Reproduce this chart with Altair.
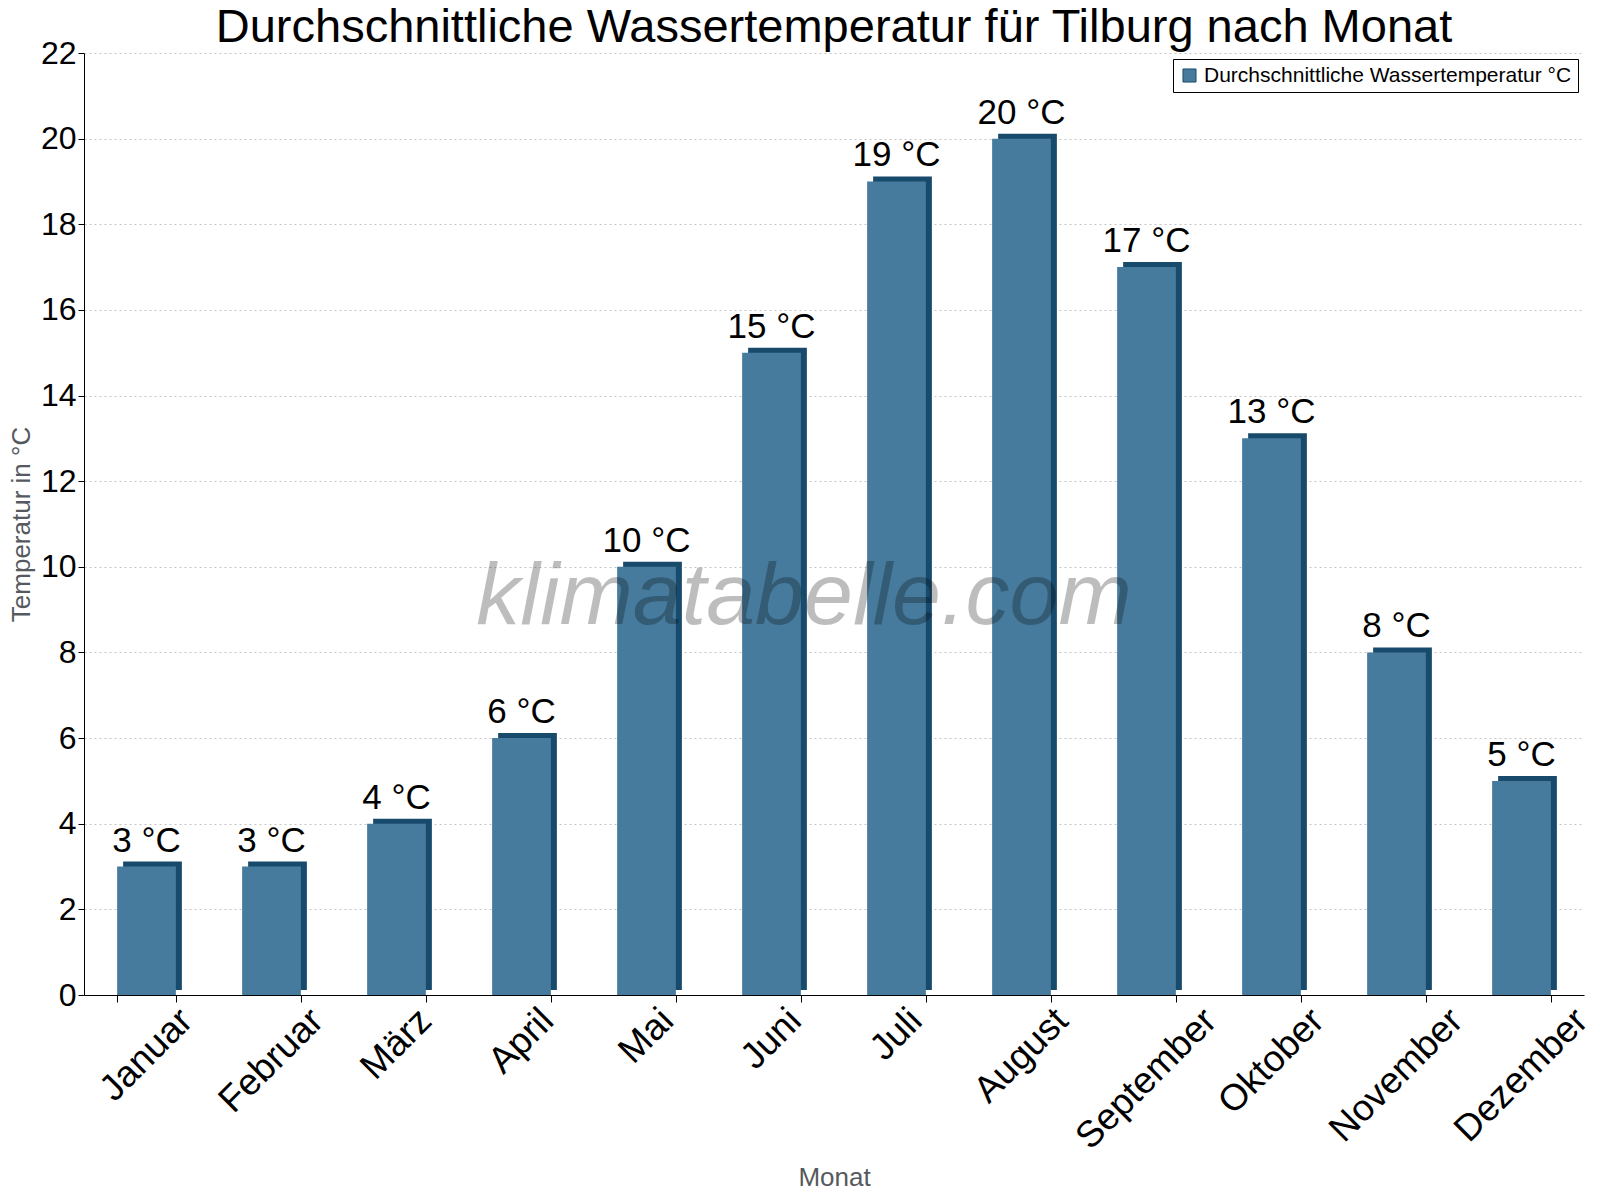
import altair as alt
import pandas as pd

# ===== Daten =====
monate = ["Januar", "Februar", "März", "April", "Mai", "Juni",
          "Juli", "August", "September", "Oktober", "November", "Dezember"]
temperatur = [3, 3, 4, 6, 10, 15, 19, 20, 17, 13, 8, 5]
serie = "Durchschnittliche Wassertemperatur °C"
wasserzeichen_text = ["klimatabelle.com"]

dat = pd.DataFrame({"Monat": monate, "Temp": temperatur})
dat["Serie"] = serie
dat["Label"] = [f"{t} °C" for t in temperatur]

FONT = "Liberation Sans"
front = "#467b9d"
side = "#184a6c"

#===== gedrehte Monatsnamen: Mitte der Box unter die Kategorie legen =====
LABEL_SIZE = 37
breiten = {"J": 500, "F": 611, "M": 833, "A": 667, "S": 667, "O": 778, "N": 722, "D": 722,
           "a": 556, "n": 556, "u": 556, "r": 333, "e": 556, "b": 556, "ä": 556, "z": 500,
           "p": 556, "i": 222, "l": 222, "g": 556, "s": 500, "t": 278, "m": 833, "k": 500,
           "o": 556, "v": 500}
def versatz(txt):
    L = sum(breiten[c] for c in txt) / 1000 * LABEL_SIZE
    return round(0.3536 * (L - LABEL_SIZE), 1)

offset_expr = " : ".join(f"datum.label == '{m}' ? {versatz(m)}" for m in monate) + " : 0"

x = alt.X("Monat:N", sort=monate, title="Monat",
          scale=alt.Scale(paddingInner=0.53, paddingOuter=0.265),
          axis=alt.Axis(labelAngle=-45, labelFontSize=LABEL_SIZE, labelColor="black",
                        labelAlign="right", labelBaseline="top",
                        labelOffset=alt.ExprRef(offset_expr),
                        tickBand="extent", tickColor="black", tickSize=7,
                        domainColor="black", titleFontSize=26, titleColor="#555a60",
                        titleFontWeight="normal", labelPadding=0, titlePadding=9,
                        labelLimit=400, grid=False))
y = alt.Y("Temp:Q", title="Temperatur in °C",
          scale=alt.Scale(domain=[0, 22]),
          axis=alt.Axis(values=list(range(0, 23, 2)), labelFontSize=32, labelColor="black",
                        tickColor="black", tickSize=6, domainColor="black",
                        gridColor="#c4c4c4", gridDash=[2, 3], titleFontSize=26,
                        titleColor="#555a60", titleFontWeight="normal", titlePadding=6))

base = alt.Chart(dat)

# dunkle Seite (3D-Effekt)
schatten = base.mark_bar(color=side, xOffset=6, yOffset=-5).encode(x=x, y=y)

balken = base.mark_bar().encode(
    x=x, y=y,
    color=alt.Color("Serie:N", scale=alt.Scale(range=[front]),
                    legend=alt.Legend(title=None, orient="top-right", labelFontSize=21,
                                      labelFont=FONT, strokeColor="black", padding=6,
                                      fillColor="white", symbolType="square",
                                      symbolSize=170, symbolStrokeColor=side,
                                      symbolStrokeWidth=1, offset=6, labelLimit=600))
)

texte = base.mark_text(fontSize=35, font=FONT, color="black", baseline="bottom", dy=-8).encode(
    x=x, y=y, text="Label:N")

wasserzeichen = alt.Chart(pd.DataFrame({"t": wasserzeichen_text})).mark_text(
    fontSize=88, font=FONT, fontStyle="italic", fill="#000000", fillOpacity=0.26).encode(
    x=alt.value(720), y=alt.value(545), text="t:N")

chart = alt.layer(schatten, balken, texte, wasserzeichen).properties(
    width=1500, height=942,
    autosize=alt.AutoSizeParams(type="none"),
    padding={"left": 76, "top": 45, "right": 8, "bottom": 196},
    title=alt.TitleParams("Durchschnittliche Wassertemperatur für Tilburg nach Monat",
                          fontSize=47, font=FONT, fontWeight="normal", color="black",
                          anchor="middle", offset=0, dy=15)
).configure(background="white", font=FONT).configure_view(stroke=None)

chart.save("out.html", embed_options={"renderer": "svg", "actions": False})
